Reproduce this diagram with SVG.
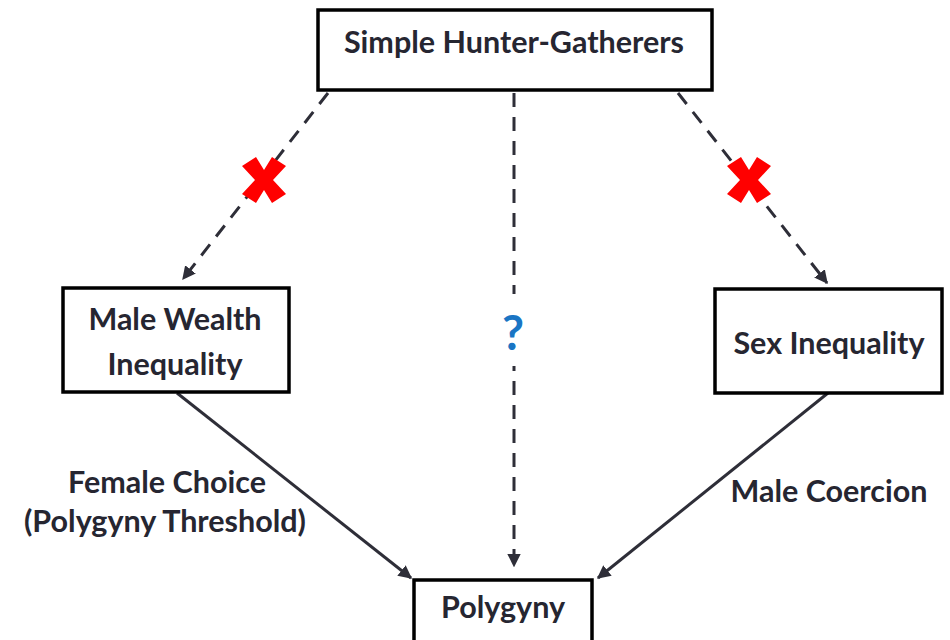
<svg xmlns="http://www.w3.org/2000/svg" width="950" height="640" viewBox="0 0 950 640">
<defs>
<style>
.box{fill:#fff;stroke:#000;stroke-width:3.5}
.t{font-family:Lato,"Open Sans","Liberation Sans",sans-serif;font-weight:bold;fill:#262631;text-anchor:middle;font-size:30.5px}
.q{fill:#1a75c4;font-size:48px}
.dash{stroke:#2e2e38;stroke-width:3;stroke-dasharray:14 10;fill:none}
.solid{stroke:#2e2e38;stroke-width:3;fill:none}
.x{fill:#ff0000}
</style>
<marker id="ah" viewBox="0 0 10 10" refX="9" refY="5" markerWidth="4.5" markerHeight="4.5" markerUnits="strokeWidth" orient="auto">
<path d="M0,0 L10,5 L0,10 z" fill="#2e2e38"/>
</marker>
<polygon id="cross" points="-8,-23 0,-10 8,-23 22,-14 9,0 22,14 8,23 0,10 -8,23 -22,14 -9,0 -22,-14"/>
</defs>
<g id="connectors">
<line class="dash" x1="328" y1="93" x2="183" y2="279" marker-end="url(#ah)"/>
<line class="dash" x1="514" y1="93" x2="514" y2="566" marker-end="url(#ah)"/>
<line class="dash" x1="678" y1="93" x2="827" y2="283" marker-end="url(#ah)"/>
<line class="solid" x1="177" y1="393" x2="411" y2="578" marker-end="url(#ah)"/>
<line class="solid" x1="828" y1="393" x2="598" y2="578" marker-end="url(#ah)"/>
<use href="#cross" class="x" x="264" y="180"/>
<use href="#cross" class="x" x="749" y="180"/>
<rect x="500" y="294" width="28" height="72" fill="#fff"/>
<text class="t q" x="513" y="350">?</text>
<text class="t" x="167" y="493">Female Choice</text>
<text class="t" x="165" y="532">(Polygyny Threshold)</text>
<text class="t" x="829" y="502">Male Coercion</text>
</g>
<g id="hunter">
<rect class="box" x="318" y="10" width="394" height="80"/>
<text class="t" x="514" y="53">Simple Hunter-Gatherers</text>
</g>
<g id="wealth">
<rect class="box" x="63" y="288" width="226" height="104"/>
<text class="t" x="175" y="330">Male Wealth</text>
<text class="t" x="175" y="375">Inequality</text>
</g>
<g id="sex">
<rect class="box" x="715" y="289" width="227" height="104"/>
<text class="t" x="829" y="354">Sex Inequality</text>
</g>
<g id="polygyny">
<rect class="box" x="414" y="580" width="178" height="70"/>
<text class="t" x="503" y="618">Polygyny</text>
</g>
</svg>
